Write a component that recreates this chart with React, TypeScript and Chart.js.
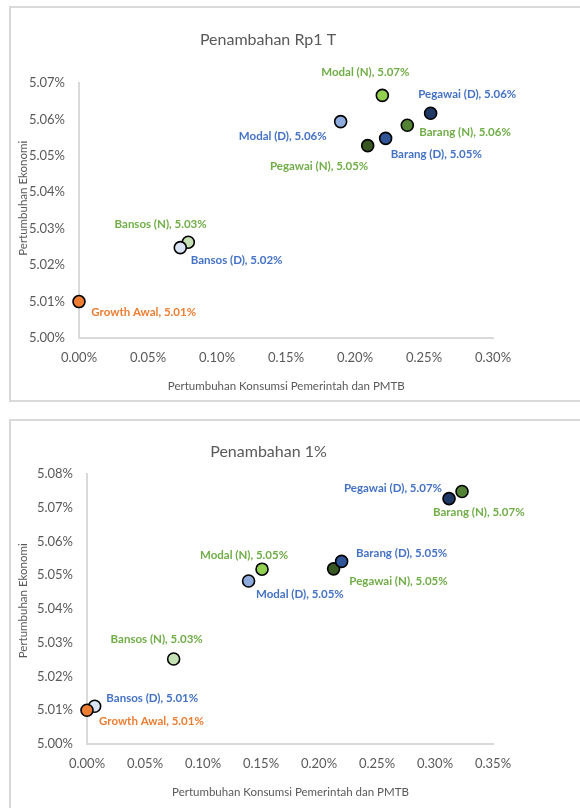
import React, { useEffect, useRef } from 'react';
import { Chart, registerables } from 'chart.js';

Chart.register(...registerables);

const FONT = 'Lato, "Open Sans", "Noto Sans", sans-serif';

// ---------- Data: chart 1 (Penambahan Rp1 T) ----------
const titleTop = 'Penambahan Rp1 T';
const namesTop = ['Bansos (N)', 'Barang (N)', 'Pegawai (N)', 'Modal (N)', 'Bansos (D)', 'Barang (D)', 'Pegawai (D)', 'Modal (D)', 'Growth Awal'];
const xTop = [0.0792, 0.2379, 0.2092, 0.2198, 0.0734, 0.2222, 0.2548, 0.1896, 0];
const yTop = [5.0263, 5.0584, 5.0528, 5.0666, 5.0248, 5.0548, 5.0617, 5.0594, 5.01];
const xTicksTop = [0, 0.05, 0.1, 0.15, 0.2, 0.25, 0.3];
const yTicksTop = [5.0, 5.01, 5.02, 5.03, 5.04, 5.05, 5.06, 5.07];

// ---------- Data: chart 2 (Penambahan 1%) ----------
const titleBottom = 'Penambahan 1%';
const namesBottom = ['Bansos (N)', 'Barang (N)', 'Pegawai (N)', 'Modal (N)', 'Bansos (D)', 'Barang (D)', 'Pegawai (D)', 'Modal (D)', 'Growth Awal'];
const xBottom = [0.0747, 0.3233, 0.2126, 0.1509, 0.0066, 0.2195, 0.3121, 0.1393, 0];
const yBottom = [5.0252, 5.0748, 5.0519, 5.0518, 5.0112, 5.0541, 5.0727, 5.0483, 5.01];
const xTicksBottom = [0, 0.05, 0.1, 0.15, 0.2, 0.25, 0.3, 0.35];
const yTicksBottom = [5.0, 5.01, 5.02, 5.03, 5.04, 5.05, 5.06, 5.07, 5.08];

const xAxisTitle = 'Pertumbuhan Konsumsi Pemerintah dan PMTB';
const yAxisTitle = 'Pertumbuhan Ekonomi';

// ---------- Styles ----------
const fillColors: Record<string, string> = {
  'Bansos (N)': '#C5E0B4',
  'Barang (N)': '#548235',
  'Pegawai (N)': '#385723',
  'Modal (N)': '#92D050',
  'Bansos (D)': '#DAE3F3',
  'Barang (D)': '#2F5597',
  'Pegawai (D)': '#1F3864',
  'Modal (D)': '#8FAADC',
  'Growth Awal': '#ED7D31',
};
const labelColors: Record<string, string> = {
  'Bansos (N)': '#70AD47',
  'Barang (N)': '#70AD47',
  'Pegawai (N)': '#70AD47',
  'Modal (N)': '#70AD47',
  'Bansos (D)': '#4472C4',
  'Barang (D)': '#4472C4',
  'Pegawai (D)': '#4472C4',
  'Modal (D)': '#4472C4',
  'Growth Awal': '#ED7D31',
};

type Place = [CanvasTextAlign, number, number];
const placeTop: Place[] = [
  ['right', 18.4, -18.3],
  ['left', 12, 7.4],
  ['right', 0.6, 21],
  ['center', -17, -23],
  ['left', 10.4, 12.6],
  ['left', 5, 15.7],
  ['left', -12.4, -19.3],
  ['right', -14, 14.3],
  ['left', 12.3, 11],
];
const placeBottom: Place[] = [
  ['center', -17, -19.3],
  ['left', -29, 21],
  ['left', 15.7, 12],
  ['center', -18, -14.3],
  ['left', 11.7, -7.7],
  ['left', 14.4, -8.4],
  ['right', -7, -10.4],
  ['left', 7.4, 13],
  ['left', 12, 11],
];

interface PanelCfg {
  title: string;
  names: string[];
  xs: number[];
  ys: number[];
  xTicks: number[];
  yTicks: number[];
  places: Place[];
  width: number;
  height: number;
  yAxisWidth: number;
  padding: { top: number; right: number; bottom: number };
  titlePos: [number, number];
  yTitlePos: [number, number];
  xTitlePos: [number, number];
}

function ScatterPanel({ cfg }: { cfg: PanelCfg }) {
  const ref = useRef<HTMLCanvasElement | null>(null);
  useEffect(() => {
    if (!ref.current) return;
    const textPlugin = {
      id: 'panelText',
      afterDatasetsDraw(chart: any) {
        const ctx = chart.ctx;
        const meta = chart.getDatasetMeta(0);
        ctx.save();
        ctx.font = `bold 11.5px ${FONT}`;
        ctx.textBaseline = 'middle';
        cfg.names.forEach((n, i) => {
          const el = meta.data[i];
          const [align, dx, dy] = cfg.places[i];
          ctx.fillStyle = labelColors[n];
          ctx.textAlign = align;
          ctx.fillText(`${n}, ${cfg.ys[i].toFixed(2)}%`, el.x + dx, el.y + dy);
        });
        ctx.restore();
      },
      afterDraw(chart: any) {
        const ctx = chart.ctx;
        ctx.save();
        ctx.fillStyle = '#595959';
        ctx.textAlign = 'center';
        ctx.textBaseline = 'middle';
        ctx.font = `16px ${FONT}`;
        ctx.fillText(cfg.title, cfg.titlePos[0], cfg.titlePos[1]);
        ctx.font = `11.5px ${FONT}`;
        ctx.fillText(xAxisTitle, cfg.xTitlePos[0], cfg.xTitlePos[1]);
        ctx.translate(cfg.yTitlePos[0], cfg.yTitlePos[1]);
        ctx.rotate(-Math.PI / 2);
        ctx.fillText(yAxisTitle, 0, 0);
        ctx.restore();
      },
    };
    const chart = new Chart(ref.current, {
      type: 'scatter',
      data: {
        datasets: [
          {
            data: cfg.xs.map((x, i) => ({ x, y: cfg.ys[i] })),
            backgroundColor: cfg.names.map((n) => fillColors[n]),
            borderColor: '#000000',
            borderWidth: 1.6,
            pointRadius: 6,
            pointHoverRadius: 6,
            clip: false as any,
          },
        ],
      },
      options: {
        responsive: false,
        animation: false,
        devicePixelRatio: 1,
        events: [],
        layout: { padding: { left: 0, top: cfg.padding.top, right: cfg.padding.right, bottom: cfg.padding.bottom } },
        plugins: { legend: { display: false }, tooltip: { enabled: false }, title: { display: false } },
        scales: {
          x: {
            type: 'linear',
            min: cfg.xTicks[0],
            max: cfg.xTicks[cfg.xTicks.length - 1],
            afterBuildTicks: (s: any) => {
              s.ticks = cfg.xTicks.map((v) => ({ value: v }));
            },
            afterFit: (s: any) => {
              s.height = 40;
            },
            grid: { display: true, drawOnChartArea: false, drawTicks: false },
            border: { display: true, color: '#D9D9D9', width: 2 },
            ticks: {
              padding: 12,
              color: '#595959',
              font: { family: FONT, size: 13 },
              maxRotation: 0,
              autoSkip: false,
              callback: (v: any) => `${Number(v).toFixed(2)}%`,
            },
          },
          y: {
            type: 'linear',
            min: cfg.yTicks[0],
            max: cfg.yTicks[cfg.yTicks.length - 1],
            afterBuildTicks: (s: any) => {
              s.ticks = cfg.yTicks.map((v) => ({ value: v }));
            },
            afterFit: (s: any) => {
              s.width = cfg.yAxisWidth;
            },
            grid: { display: true, drawOnChartArea: false, drawTicks: false },
            border: { display: true, color: '#D9D9D9', width: 2 },
            ticks: {
              padding: 14,
              color: '#595959',
              font: { family: FONT, size: 13 },
              autoSkip: false,
              callback: (v: any) => `${Number(v).toFixed(2)}%`,
            },
          },
        },
      } as any,
      plugins: [textPlugin],
    });
    return () => chart.destroy();
  }, [cfg]);
  return <canvas ref={ref} width={cfg.width} height={cfg.height} style={{ display: 'block', width: cfg.width, height: cfg.height }} />;
}

const topCfg: PanelCfg = {
  title: titleTop,
  names: namesTop,
  xs: xTop,
  ys: yTop,
  xTicks: xTicksTop,
  yTicks: yTicksTop,
  places: placeTop,
  width: 569,
  height: 392,
  yAxisWidth: 68,
  padding: { top: 75, right: 87, bottom: 22 },
  titlePos: [257, 32],
  yTitlePos: [12.3, 190.3],
  xTitlePos: [275.3, 378],
};

const bottomCfg: PanelCfg = {
  title: titleBottom,
  names: namesBottom,
  xs: xBottom,
  ys: yBottom,
  xTicks: xTicksBottom,
  yTicks: yTicksBottom,
  places: placeBottom,
  width: 569,
  height: 387,
  yAxisWidth: 76,
  padding: { top: 53, right: 87, bottom: 24 },
  titlePos: [257.5, 30.7],
  yTitlePos: [12.3, 179.8],
  xTitlePos: [279.5, 371.7],
};

const boxBorder = '2px solid #D9D9D9';

export default function App() {
  return (
    <div style={{ position: 'absolute', left: 0, top: 0, width: 580, height: 808, overflow: 'hidden', background: '#ffffff' }}>
      <div style={{ position: 'absolute', left: 9, top: 6, width: 600, height: 392, borderTop: boxBorder, borderBottom: boxBorder, borderLeft: boxBorder }}>
        <ScatterPanel cfg={topCfg} />
      </div>
      <div style={{ position: 'absolute', left: 9, top: 419, width: 600, height: 400, borderTop: boxBorder, borderBottom: boxBorder, borderLeft: boxBorder }}>
        <ScatterPanel cfg={bottomCfg} />
      </div>
    </div>
  );
}
